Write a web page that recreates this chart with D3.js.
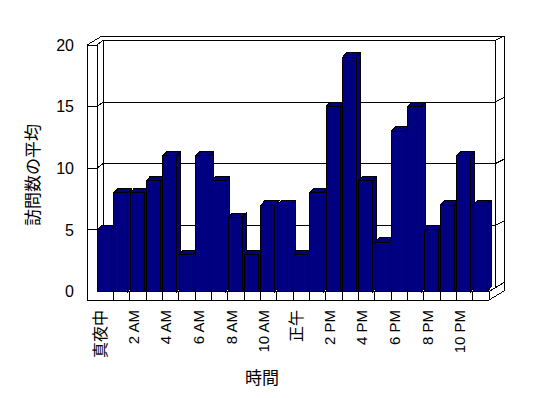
<!DOCTYPE html>
<html>
<head>
<meta charset="utf-8">
<script src="https://cdn.jsdelivr.net/npm/d3@7"></script>
<style>
  body { margin: 0; background: #fff; }
  svg { display: block; shape-rendering: crispEdges; }
  .tick-num { font-family: "Liberation Sans", Arial, sans-serif; font-size: 16px; }
  .cat { font-family: "Liberation Sans", "Noto Sans CJK JP", sans-serif; font-size: 15px; }
  .cjk { font-family: "Noto Sans CJK JP", sans-serif; }
</style>
</head>
<body>
<div id="chart"></div>
<script>
// 時間ごとの訪問数の平均
const hours = ['真夜中', '', '2 AM', '', '4 AM', '', '6 AM', '', '8 AM', '', '10 AM', '',
               '正午', '', '2 PM', '', '4 PM', '', '6 PM', '', '8 PM', '', '10 PM', ''];
const visits = [5, 8, 8, 9, 11, 3, 11, 9, 6, 3, 7, 7, 3, 8, 15, 19, 9, 4, 13, 15, 5, 7, 11, 7];
const yTicks = [0, 5, 10, 15, 20];
const yTitle = '訪問数の平均';
const xTitle = '時間';

const width = 548, height = 398;

// plot frame (front plane)
const wallLeft = 87, plotLeft = 97, plotRight = 489;
const yBase = 291.5, yTopV = 45, floorH = 8.5;
const dWall = [6, -4.5];   // left wall inner side -> back wall face
const dBack = [9, -4.5];   // back wall thickness
const dBar = [4, -4.5];    // bar depth

const svg = d3.select('#chart')
  .append('svg')
  .attr('width', width)
  .attr('height', height);

const x = d3.scaleBand()
  .domain(d3.range(hours.length))
  .range([plotLeft, plotRight]);

const y = d3.scaleLinear()
  .domain([0, 20])
  .range([yBase, yTopV]);

const line = d3.line();
const frame = svg.append('g')
  .attr('fill', 'none')
  .attr('stroke', '#000')
  .attr('stroke-width', 1);

const bx0 = plotLeft + dWall[0];            // back wall face left
const bx1 = plotRight + dWall[0];           // back wall face right
const fullD = [dWall[0] + dBack[0], dWall[1] + dBack[1]];

// outer silhouette
frame.append('path').attr('d', line([
  [wallLeft, yBase + floorH], [wallLeft, y(20)],
  [wallLeft + fullD[0], y(20) + fullD[1]],
  [plotRight + fullD[0], y(20) + fullD[1]],
  [plotRight + fullD[0], yBase + fullD[1] + floorH],
  [plotRight, yBase + floorH], [wallLeft, yBase + floorH]
]));

// walls
frame.append('path').attr('d', line([[plotLeft, y(20)], [plotLeft, yBase]]));
frame.append('path').attr('d', line([[bx0, y(20) + dWall[1]], [bx0, yBase + dWall[1]]]));
frame.append('path').attr('d', line([[bx1, y(20) + dWall[1]], [bx1, yBase + dWall[1]]]));

// gridlines across left wall, back wall and its right end
yTicks.filter(v => v > 0).forEach(v => {
  const yy = y(v);
  frame.append('path').attr('d', line([
    [wallLeft, yy], [plotLeft, yy],
    [bx0, yy + dWall[1]], [bx1, yy + dWall[1]],
    [bx1 + dBack[0], yy + fullD[1]]
  ]));
});

// floor
frame.append('path').attr('d', line([
  [plotLeft, yBase], [plotRight, yBase],
  [plotRight + fullD[0], yBase + fullD[1]]
]));
frame.append('path').attr('d', line([[plotRight, yBase], [plotRight, yBase + floorH]]));
d3.range(1, hours.length).forEach(i => {
  frame.append('path').attr('d', line([[x(i), yBase], [x(i), yBase + floorH]]));
});

// bars
const barW = 14;
const bars = svg.append('g')
  .attr('fill', '#000080')
  .attr('stroke', '#000')
  .attr('stroke-width', 1)
  .selectAll('g')
  .data(visits)
  .enter()
  .append('g');

bars.append('path')
  .attr('d', (d, i) => {
    const l = x(i) + 0.5, r = l + barW, t = y(d);
    return line([[l, t], [r, t], [r + dBar[0], t + dBar[1]], [l + dBar[0], t + dBar[1]]]) + 'Z';
  });

bars.append('path')
  .attr('d', (d, i) => {
    const r = x(i) + 0.5 + barW, t = y(d);
    return line([[r, t], [r + dBar[0], t + dBar[1]], [r + dBar[0], yBase + dBar[1]], [r, yBase]]) + 'Z';
  });

bars.append('rect')
  .attr('x', (d, i) => x(i) + 0.5)
  .attr('y', d => y(d))
  .attr('width', barW)
  .attr('height', d => yBase - y(d));

// y tick labels
svg.append('g')
  .selectAll('text')
  .data(yTicks)
  .enter()
  .append('text')
  .attr('class', 'tick-num')
  .attr('x', 74)
  .attr('y', d => y(d))
  .attr('dy', '0.36em')
  .attr('text-anchor', 'end')
  .text(d => d);

// x category labels
svg.append('g')
  .selectAll('text')
  .data(hours)
  .enter()
  .filter(d => d !== '')
  .append('text')
  .attr('class', d => /[A-Z0-9]/.test(d) ? 'cat' : 'cat cjk')
  .style('font-size', d => /[A-Z0-9]/.test(d) ? '15px' : '16px')
  .attr('transform', d => {
    const idx = hours.indexOf(d);
    return `translate(${x(idx) + x.bandwidth() / 2 - 4.5},310) rotate(-90)`;
  })
  .attr('dy', '0.36em')
  .attr('text-anchor', 'end')
  .text(d => d);

// axis titles
svg.append('text')
  .attr('class', 'cjk')
  .style('font-size', '17px')
  .attr('transform', 'translate(33,175) rotate(-90)')
  .attr('dy', '0.35em')
  .attr('text-anchor', 'middle')
  .text(yTitle);

svg.append('text')
  .attr('class', 'cjk')
  .style('font-size', '17px')
  .attr('x', 262)
  .attr('y', 378)
  .attr('dy', '0.35em')
  .attr('text-anchor', 'middle')
  .text(xTitle);
</script>
</body>
</html>
